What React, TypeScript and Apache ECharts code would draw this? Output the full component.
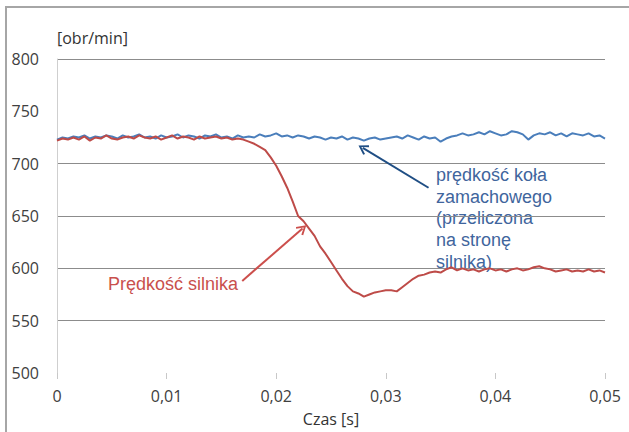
import React, { useEffect, useRef } from "react";
import * as echarts from "echarts";

// sampling step of the recorded signals [s]
const SAMPLE_STEP = 0.0005;

// motor speed [obr/min]
const motorSpeed = [
  722, 724, 723, 725, 723, 726, 722, 725, 724, 727, 724, 723, 725, 726, 724, 727, 725, 724, 726, 723,
  725, 727, 724, 726, 725, 723, 726, 724, 725, 726, 724, 725, 723, 724, 723, 721, 719, 716, 713, 706,
  698, 688, 677, 664, 650, 645, 638, 631, 621, 614, 606, 598, 590, 583, 578, 576, 573, 575, 577, 578,
  579, 579, 578, 582, 586, 590, 593, 594, 596, 597, 596, 599, 601, 598, 600, 598, 599, 597, 599, 600,
  598, 599, 597, 599, 600, 598, 599, 601, 602, 600, 599, 597, 598, 599, 597, 598, 597, 599, 597, 598,
  596,
];

// flywheel speed (converted to motor side) [obr/min]
const flywheelSpeed = [
  723, 725, 724, 726, 725, 727, 724, 726, 725, 727, 726, 724, 727, 725, 726, 728, 725, 726, 724, 727,
  725, 726, 728, 725, 727, 726, 724, 727, 726, 728, 725, 726, 724, 727, 725, 726, 725, 728, 726, 727,
  729, 726, 727, 725, 727, 726, 724, 726, 725, 723, 725, 724, 726, 723, 725, 724, 722, 724, 725, 723,
  724, 725, 726, 724, 727, 725, 723, 726, 724, 725, 721, 724, 726, 727, 729, 727, 728, 730, 728, 731,
  729, 727, 728, 731, 730, 728, 723, 727, 729, 728, 730, 727, 729, 726, 729, 728, 727, 729, 726, 727,
  724,
];

const yTicks = [500, 550, 600, 650, 700, 750, 800];
const hiddenGridValues = [500, 750];

const xName = "Czas [s]";
const yName = "[obr/min]";
const flywheelLabel = "prędkość koła\nzamachowego\n(przeliczona\nna stronę\nsilnika)";
const motorLabel = "Prędkość silnika";

// arrow annotations in data coordinates [t, value]
const flywheelArrow = [[0.0339, 677], [0.0279, 715]];
const motorArrow = [[0.0169, 588], [0.0224, 638]];

const BLUE = "#4a7ebb";
const RED = "#be4b48";

const chevron = "path://M5,0 L10,8.5 L8.6,9.6 L5,3.2 L1.4,9.6 L0,8.5 Z";

export default function App() {
  const ref = useRef<HTMLDivElement>(null);

  useEffect(() => {
    if (!ref.current) return;
    const chart = echarts.init(ref.current, null, { renderer: "svg" });

    const toPairs = (arr: number[]) => arr.map((v, i) => [+(i * SAMPLE_STEP).toFixed(5), v]);

    const splitColors = yTicks.map((v) => (hiddenGridValues.includes(v) ? "rgba(0,0,0,0)" : "#8c8c8c"));

    const arrowLine = (pts: number[][]) => [[{ coord: pts[0] }, { coord: pts[1] }]];

    chart.setOption({
      animation: false,
      backgroundColor: "#ffffff",
      textStyle: { fontFamily: "Open Sans" },
      grid: { left: 57, right: 24, top: 59, bottom: 56, containLabel: false },
      xAxis: {
        type: "value",
        min: 0,
        max: 0.05,
        interval: 0.01,
        name: xName,
        nameLocation: "middle",
        nameGap: 38,
        nameTextStyle: { fontSize: 16, color: "#333", fontFamily: "Open Sans" },
        axisLine: { show: false },
        axisTick: { show: true, length: 6, lineStyle: { color: "#c8c8c8", width: 1 } },
        splitLine: { show: false },
        axisLabel: {
          fontSize: 16,
          color: "#404040",
          margin: 15,
          fontFamily: "Open Sans",
          formatter: (v: number) => (v === 0 ? "0" : v.toFixed(2).replace(".", ",")),
        },
      },
      yAxis: {
        type: "value",
        min: 500,
        max: 800,
        interval: 50,
        name: yName,
        nameLocation: "end",
        nameGap: 13,
        nameTextStyle: { fontSize: 16, color: "#333", align: "left", fontFamily: "Open Sans" },
        axisLine: { show: true, lineStyle: { color: "#cfcfcf", width: 1 } },
        axisTick: { show: false },
        splitLine: { show: true, lineStyle: { color: splitColors, width: 1 } },
        axisLabel: { fontSize: 16, color: "#404040", margin: 18, fontFamily: "Open Sans" },
      },
      series: [
        {
          type: "line",
          data: toPairs(flywheelSpeed),
          showSymbol: false,
          lineStyle: { color: BLUE, width: 2 },
          itemStyle: { color: BLUE },
          z: 3,
          markLine: {
            silent: true,
            symbol: ["none", chevron],
            symbolSize: [11, 10],
            label: { show: false },
            lineStyle: { color: "#1f4e84", width: 2, type: "solid" },
            data: arrowLine(flywheelArrow),
          },
        },
        {
          type: "line",
          data: toPairs(motorSpeed),
          showSymbol: false,
          lineStyle: { color: RED, width: 2 },
          itemStyle: { color: RED },
          z: 4,
          markLine: {
            silent: true,
            symbol: ["none", chevron],
            symbolSize: [11, 10],
            label: { show: false },
            lineStyle: { color: "#cc4f4c", width: 2, type: "solid" },
            data: arrowLine(motorArrow),
          },
        },
      ],
      graphic: [
        {
          type: "rect",
          shape: { x: 6, y: 7, width: 660, height: 460 },
          style: { fill: "none", stroke: "#a6a6a6", lineWidth: 2 },
          silent: true,
        },
        {
          type: "text",
          left: 436,
          top: 164,
          style: {
            text: flywheelLabel,
            fill: "#3f659d",
            font: "18px 'Liberation Sans', Arial, sans-serif",
            lineHeight: 21.7,
          },
        },
        {
          type: "text",
          left: 108,
          top: 275,
          style: {
            text: motorLabel,
            fill: "#c9504d",
            font: "18px 'Liberation Sans', Arial, sans-serif",
          },
        },
      ],
    });

    return () => chart.dispose();
  }, []);

  return (
    <div
      ref={ref}
      style={{ position: "fixed", left: 0, top: 0, width: 629, height: 432 }}
    />
  );
}
